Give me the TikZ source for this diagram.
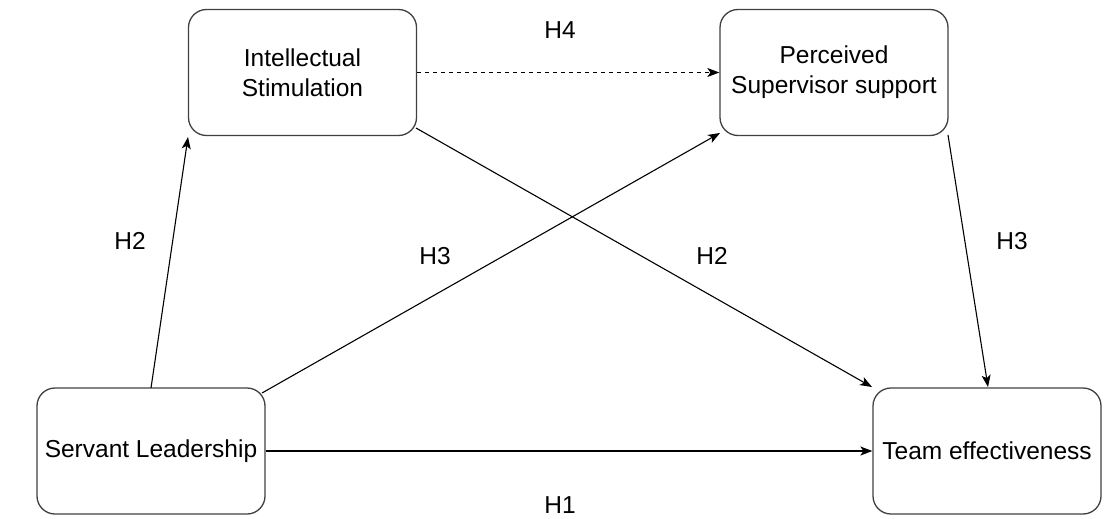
\documentclass[tikz,border=0pt]{standalone}
\usepackage{fontspec}
\setmainfont{Liberation Sans}
\usetikzlibrary{arrows.meta}
\begin{document}
\begin{tikzpicture}[x=1pt,y=-1pt,
  box/.style={draw=black!75,line width=1.3pt,rounded corners=18pt,minimum width=228pt,minimum height=126pt,inner sep=0pt,align=center,font=\fontsize{24.5}{30}\selectfont},
  conn/.style={line width=1.1pt,-{Stealth[length=12pt,width=9pt,inset=3pt]}},
  lab/.style={font=\fontsize{24.5}{28}\selectfont}]
\useasboundingbox (0,0) rectangle (1113,519);
\node[box] (is) at (302.5,72.5) {Intellectual\\Stimulation};
\node[box] (ps) at (834,72.5) {Perceived\\Supervisor support};
\node[box] (sl) at (151,451) {Servant Leadership};
\node[box] (te) at (987,451) {Team effectiveness};
\coordinate (a1) at (151,388);
\coordinate (a2) at (188,137);
\coordinate (b1) at (262,393);
\coordinate (b2) at (720,133);
\coordinate (c1) at (416,128);
\coordinate (c2) at (872,387);
\coordinate (d1) at (948,135);
\coordinate (d2) at (988,387);
\draw[conn] (a1) -- (a2);
\draw[conn] (b1) -- (b2);
\draw[conn] (c1) -- (c2);
\draw[conn] (d1) -- (d2);
\draw[conn] (sl.east) -- (te.west);
\draw[conn,dashed,dash pattern=on 4pt off 4pt] (is.east) -- (ps.west);
\node[lab] (h4) at (560,30) {H4};
\node[lab] (h2a) at (130,241) {H2};
\node[lab] (h3a) at (435,256) {H3};
\node[lab] (h2b) at (712,256) {H2};
\node[lab] (h3b) at (1012,241) {H3};
\node[lab] (h1) at (560,505) {H1};
\end{tikzpicture}
\end{document}
